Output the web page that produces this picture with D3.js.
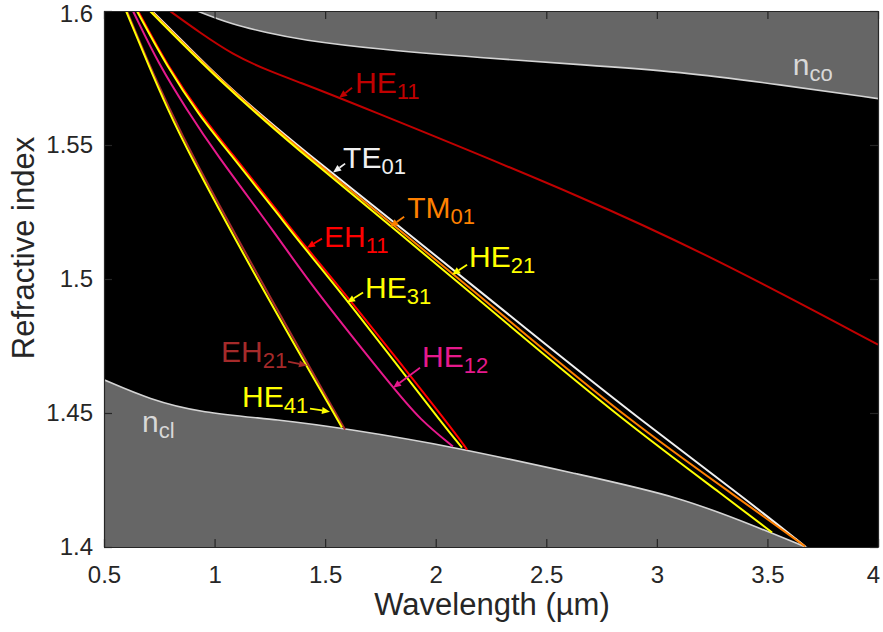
<!DOCTYPE html>
<html>
<head>
<meta charset="utf-8">
<script src="https://cdn.jsdelivr.net/npm/d3@7/dist/d3.min.js"></script>
<style>
  body { margin: 0; background: #fff; }
  text { font-family: "Liberation Sans", Arial, Helvetica, sans-serif; }
</style>
</head>
<body>
<div id="plot"></div>
<script>
// material lines: [wavelength (um), refractive index]
var nCore = [[0.85, 1.6025], [0.921, 1.6000], [1.083, 1.5949], [1.237, 1.5919], [1.386, 1.5893],
  [1.748, 1.5856], [2.201, 1.5826], [2.653, 1.5800], [3.105, 1.5774], [3.557, 1.5725], [4.0, 1.5673]];
var nClad = [[0.5, 1.4624], [0.708, 1.4550], [0.934, 1.4501], [1.296, 1.4475], [1.590, 1.4442],
  [2.078, 1.4375], [2.653, 1.4270], [3.105, 1.4188], [3.481, 1.4065], [3.657, 1.4006], [3.70, 1.3990]];

// guided modes: [wavelength (um), effective index]
var modeHE11 = [[0.798, 1.600], [0.934, 1.5919], [1.083, 1.5837], [1.237, 1.5779], [1.386, 1.5733],
  [1.567, 1.5676], [2.743, 1.5281], [3.345, 1.5042], [4.0, 1.4755]];
var modeTE01 = [[0.717, 1.600], [0.875, 1.5871], [1.043, 1.5733], [1.215, 1.5609], [1.386, 1.5490],
  [1.839, 1.5195], [2.413, 1.4811], [2.924, 1.4475], [3.404, 1.4177], [3.671, 1.4002]];
var modeTM01 = [[0.713, 1.600], [1.036, 1.5733], [1.375, 1.5490], [1.821, 1.5195], [2.381, 1.4811],
  [2.870, 1.4475], [3.377, 1.4177], [3.671, 1.4002]];
var modeHE21 = [[0.708, 1.600], [1.029, 1.5733], [1.364, 1.5490], [1.803, 1.5195], [2.354, 1.4811],
  [2.843, 1.4475], [3.327, 1.4177], [3.521, 1.4054]];
var modeEH11 = [[0.654, 1.600], [0.789, 1.5792], [0.943, 1.5606], [1.065, 1.5482], [1.305, 1.5232],
  [1.396, 1.5135], [1.613, 1.4923], [2.078, 1.4438], [2.142, 1.4363]];
var modeHE31 = [[0.649, 1.600], [0.785, 1.5792], [0.934, 1.5606], [1.056, 1.5482], [1.296, 1.5232],
  [1.386, 1.5135], [1.599, 1.4923], [2.050, 1.4438], [2.119, 1.4371]];
var modeHE12 = [[0.631, 1.600], [0.753, 1.5792], [0.875, 1.5632], [0.993, 1.5482], [1.296, 1.5147],
  [1.418, 1.4997], [1.807, 1.4594], [1.929, 1.4475], [2.078, 1.4375]];
var modeEH21 = [[0.604, 1.600], [0.708, 1.5792], [0.799, 1.5632], [0.884, 1.5482], [1.206, 1.4997], [1.590, 1.4438]];
var modeHE41 = [[0.600, 1.600], [0.704, 1.5792], [0.789, 1.5632], [0.875, 1.5482], [1.192, 1.4997], [1.576, 1.4446]];

// where each label arrow touches its curve [wavelength, index]
var tipHE11 = [1.563, 1.5676];
var tipTE01 = [1.536, 1.5397];
var tipTM01 = [1.794, 1.5195];
var tipHE21 = [2.074, 1.5016];
var tipEH11 = [1.418, 1.5117];
var tipHE31 = [1.599, 1.4912];
var tipHE12 = [1.807, 1.4594];
var tipEH21 = [1.418, 1.4677];
var tipHE41 = [1.522, 1.4505];

var xTicks = [0.5, 1, 1.5, 2, 2.5, 3, 3.5, 4];
var yTicks = [1.4, 1.45, 1.5, 1.55, 1.6];

var svgWidth = 883;
var svgHeight = 632;
var margin = { top: 11, right: 5, bottom: 85, left: 104 };
var width = svgWidth - margin.left - margin.right;
var height = svgHeight - margin.top - margin.bottom;

var svg = d3.select("#plot")
  .append("svg")
  .attr("width", svgWidth)
  .attr("height", svgHeight);

var chartGroup = svg.append("g")
  .attr("transform", `translate(${margin.left}, ${margin.top})`);

var xScale = d3.scaleLinear().domain([0.5, 4]).range([0, width]);
var yScale = d3.scaleLinear().domain([1.4, 1.6]).range([height, 0]);

svg.append("defs").append("clipPath")
  .attr("id", "plotClip")
  .append("rect")
  .attr("width", width)
  .attr("height", height);

// background: black guided region, grey outside the core / cladding lines
chartGroup.append("rect")
  .attr("width", width)
  .attr("height", height)
  .attr("fill", "#000");

var inner = chartGroup.append("g").attr("clip-path", "url(#plotClip)");

var grey = "#666666";
inner.append("path")
  .datum(nCore)
  .attr("fill", grey)
  .attr("d", d3.area()
    .x(d => xScale(d[0]))
    .y0(yScale(1.6) - 5)
    .y1(d => yScale(d[1]))
    .curve(d3.curveBasis));

inner.append("path")
  .datum(nClad)
  .attr("fill", grey)
  .attr("d", d3.area()
    .x(d => xScale(d[0]))
    .y0(yScale(1.4) + 5)
    .y1(d => yScale(d[1]))
    .curve(d3.curveBasis));

// basis smoothing irons out the reading noise of the traced points
var line = d3.line()
  .x(d => xScale(d[0]))
  .y(d => yScale(d[1]))
  .curve(d3.curveBasis);

[nCore, nClad].forEach(s => {
  inner.append("path")
    .datum(s)
    .attr("fill", "none")
    .attr("stroke", "#d4d4d4")
    .attr("stroke-width", 1.6)
    .attr("d", line);
});

// mode table (drawn in this order, later ones on top)
var modes = [
  { main: "HE", sub: "11", data: modeHE11, tip: tipHE11, color: "#c00000", text: [16, -5], tail: [13, -10] },
  { main: "EH", sub: "21", data: modeEH21, tip: tipEH21, color: "#a52a2a", text: [-86, -4], tail: [-19, -4] },
  { main: "HE", sub: "41", data: modeHE41, tip: tipHE41, color: "#ffff00", text: [-88, -5], tail: [-20, -3] },
  { main: "HE", sub: "12", data: modeHE12, tip: tipHE12, color: "#e6198c", text: [29, -21], tail: [27, -20] },
  { main: "EH", sub: "11", data: modeEH11, tip: tipEH11, color: "#ff0000", text: [17, -1], tail: [15, -9] },
  { main: "HE", sub: "31", data: modeHE31, tip: tipHE31, color: "#ffff00", text: [18, -5], tail: [16, -10] },
  { main: "TE", sub: "01", data: modeTE01, tip: tipTE01, color: "#f0f0f0", text: [10, -5], tail: [12, -9] },
  { main: "TM", sub: "01", data: modeTM01, tip: tipTM01, color: "#ff8000", text: [17, -9], tail: [14, -10] },
  { main: "HE", sub: "21", data: modeHE21, tip: tipHE21, color: "#ffff00", text: [17, -8], tail: [15, -10] }
];

modes.forEach(m => {
  inner.append("path")
    .datum(m.data)
    .attr("fill", "none")
    .attr("stroke", m.color)
    .attr("stroke-width", 2)
    .attr("d", line);
});

// labels with little arrows
function drawArrow(g, x1, y1, x2, y2, color) {
  var ang = Math.atan2(y2 - y1, x2 - x1);
  var len = 8, half = 3.5;
  var bx = x2 - len * Math.cos(ang), by = y2 - len * Math.sin(ang);
  g.append("line")
    .attr("x1", x1).attr("y1", y1)
    .attr("x2", bx).attr("y2", by)
    .attr("stroke", color)
    .attr("stroke-width", 1.8);
  g.append("path")
    .attr("d", `M${x2},${y2}L${bx - half * Math.sin(ang)},${by + half * Math.cos(ang)}L${bx + half * Math.sin(ang)},${by - half * Math.cos(ang)}Z`)
    .attr("fill", color);
}

function subLabel(g, x, y, main, sub, color, size, subSize) {
  var t = g.append("text")
    .attr("x", x)
    .attr("y", y)
    .attr("fill", color)
    .style("font-size", size + "px");
  t.append("tspan").text(main);
  t.append("tspan")
    .attr("dy", 6)
    .style("font-size", subSize + "px")
    .text(sub);
}

modes.forEach(m => {
  var tx = xScale(m.tip[0]), ty = yScale(m.tip[1]);
  drawArrow(chartGroup, tx + m.tail[0], ty + m.tail[1], tx, ty, m.color);
  subLabel(chartGroup, tx + m.text[0], ty + m.text[1], m.main, m.sub, m.color, 30, 22);
});

subLabel(chartGroup, xScale(3.615), yScale(1.5763), "n", "co", "#d8d8d8", 30, 22);
subLabel(chartGroup, xScale(0.672), yScale(1.4428), "n", "cl", "#d8d8d8", 30, 22);

// axes with ticks pointing inward
var axisColor = "#262626";
var fmt = d => String(d);

var bottomAxis = d3.axisBottom(xScale).tickValues(xTicks).tickFormat(fmt)
  .tickSizeInner(-8).tickSizeOuter(0).tickPadding(19);
var topAxis = d3.axisTop(xScale).tickValues(xTicks).tickFormat("")
  .tickSizeInner(-8).tickSizeOuter(0);
var leftAxis = d3.axisLeft(yScale).tickValues(yTicks).tickFormat(fmt)
  .tickSizeInner(-8).tickSizeOuter(0).tickPadding(11);
var rightAxis = d3.axisRight(yScale).tickValues(yTicks).tickFormat("")
  .tickSizeInner(-8).tickSizeOuter(0);

chartGroup.append("g").attr("class", "x_axis")
  .attr("transform", `translate(0, ${height})`).call(bottomAxis);
chartGroup.append("g").attr("class", "x_axis_top").call(topAxis);
chartGroup.append("g").attr("class", "y_axis").call(leftAxis);
chartGroup.append("g").attr("class", "y_axis_right")
  .attr("transform", `translate(${width}, 0)`).call(rightAxis);

chartGroup.selectAll(".domain").attr("stroke", axisColor).attr("stroke-width", 1.2);
chartGroup.selectAll(".tick line").attr("stroke", axisColor).attr("stroke-width", 1.2);
chartGroup.selectAll(".tick text")
  .attr("fill", axisColor)
  .style("font-size", "24px")
  .style("font-family", "'Liberation Sans', Arial, sans-serif");

// nudge the corner labels the way the original sits
chartGroup.selectAll(".x_axis .tick text").filter(d => d == 4).attr("dx", -5);
chartGroup.selectAll(".y_axis .tick text").filter(d => d == 1.6).attr("y", 3);

// axis titles
svg.append("text")
  .attr("transform", `translate(34, 248) rotate(-90)`)
  .attr("text-anchor", "middle")
  .attr("fill", axisColor)
  .style("font-size", "31px")
  .text("Refractive index");

svg.append("text")
  .attr("x", 492)
  .attr("y", 615)
  .attr("text-anchor", "middle")
  .attr("fill", axisColor)
  .style("font-size", "31px")
  .text("Wavelength (µm)");
</script>
</body>
</html>
